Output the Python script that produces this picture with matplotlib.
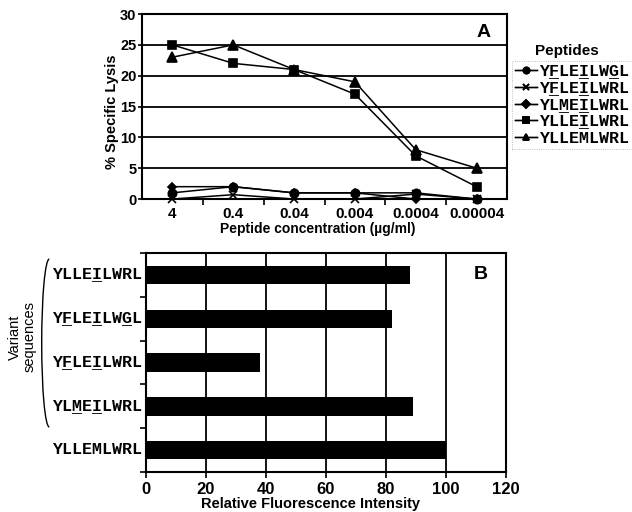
import matplotlib
matplotlib.use("Agg")
import matplotlib.pyplot as plt
from matplotlib.patches import Arc
import numpy as np

plt.rcParams['font.family'] = ['Liberation Sans', 'DejaVu Sans']

# panel A data
conc_labels = ['4', '0.4', '0.04', '0.004', '0.0004', '0.00004']
peptides = ['YFLEILWGL', 'YFLEILWRL', 'YLMEILWRL', 'YLLEILWRL', 'YLLEMLWRL']
underlines = {'YFLEILWGL': ' _  _  _ ',
              'YFLEILWRL': ' _  _    ',
              'YLMEILWRL': '  _ _    ',
              'YLLEILWRL': '    _    ',
              'YLLEMLWRL': '         '}
lysis_yflei_wgl = [1, 2, 1, 1, 1, 0]
lysis_yflei_wrl = [0, 0.7, 0, 0, 0.8, 0]
lysis_ylmei_wrl = [2, 2, 1, 1, 0, 0]
lysis_yllei_wrl = [25, 22, 21, 17, 7, 2]
lysis_yllem_wrl = [23, 25, 21, 19, 8, 5]
markers = ['o', 'x', 'D', 's', '^']
msizes = [6, 6, 4.5, 6, 7]

# panel B data
variants = ['YLLEILWRL', 'YFLEILWGL', 'YFLEILWRL', 'YLMEILWRL', 'YLLEMLWRL']
fluor = [88, 82, 38, 89, 100]

mono = 'Liberation Mono'

fig = plt.figure(figsize=(6.32, 5.12), dpi=100)

# ---------------- panel A ----------------
axA = fig.add_axes([0.2247, 0.6113, 0.5775, 0.3613])
x = np.arange(len(conc_labels))
series = [lysis_yflei_wgl, lysis_yflei_wrl, lysis_ylmei_wrl, lysis_yllei_wrl, lysis_yllem_wrl]
handles = []
for vals, m, ms in zip(series, markers, msizes):
    h, = axA.plot(x, vals, color='black', lw=1.1, marker=m, ms=ms,
                  mec='black', mfc='black', mew=1.2, clip_on=False, zorder=3)
    handles.append(h)
axA.set_xlim(-0.5, 5.5)
axA.set_ylim(0, 30)
axA.set_yticks(np.arange(0, 31, 5))
axA.yaxis.grid(True, color='black', lw=1.3)
axA.set_axisbelow(True)
axA.set_xticks(x)
axA.set_xticklabels(conc_labels, fontweight='bold', fontsize=11)
axA.set_xticks(np.arange(0.5, 5, 1), minor=True)
axA.tick_params(axis='x', which='major', length=0, pad=6)
axA.tick_params(axis='x', which='minor', length=4, width=1.2, direction='out')
axA.tick_params(axis='y', length=3, width=1.2, labelsize=10.5, pad=1)
for lab in axA.get_yticklabels():
    lab.set_fontweight('bold')
for s in axA.spines.values():
    s.set_linewidth(1.5)
axA.set_ylabel('% Specific Lysis', fontweight='bold', fontsize=10.5)
axA.yaxis.set_label_coords(-0.062, 0.473)
axA.set_xlabel('Peptide concentration (µg/ml)', fontweight='bold', fontsize=10)
axA.xaxis.set_label_coords(0.482, -0.124)
axA.text(0.955, 0.9, 'A', transform=axA.transAxes, fontsize=14, fontweight='bold',
         ha='right', va='center')

leg_kw = dict(loc='upper left', bbox_to_anchor=(0.810, 0.881),
              bbox_transform=fig.transFigure, prop={'family': mono, 'weight': 'bold', 'size': 12},
              handlelength=1.3, handletextpad=0.1, labelspacing=0.1, borderpad=0.2,
              borderaxespad=0, fancybox=False, edgecolor='#aaaaaa', framealpha=1)
leg1 = axA.legend(handles, peptides, **leg_kw)
leg1.get_frame().set_linewidth(0.6)
leg1.get_frame().set_linestyle(':')
axA.add_artist(leg1)
leg2 = axA.legend(handles, [underlines[p] for p in peptides], frameon=False, **leg_kw)
for lg in (leg1, leg2):
    for hd in lg.legend_handles:
        hd.set_markersize(4.5)
        hd.set_linewidth(1.0)
fig.text(567 / 632, 1 - 51 / 512, 'Peptides', ha='center', va='center',
         fontsize=11, fontweight='bold')

# ---------------- panel B ----------------
axB = fig.add_axes([0.231, 0.0781, 0.5696, 0.4277])
y = np.arange(len(variants))
axB.barh(y, fluor, height=0.42, color='black', zorder=3)
axB.set_xlim(0, 120)
axB.set_ylim(4.5, -0.5)
axB.set_xticks(np.arange(0, 121, 20))
axB.xaxis.grid(True, color='black', lw=1.3)
axB.set_axisbelow(True)
axB.tick_params(axis='x', length=4, width=1.2, labelsize=12)
for lab in axB.get_xticklabels():
    lab.set_fontweight('bold')
axB.set_yticks(y)
axB.set_yticklabels([])
axB.set_yticks(np.arange(-0.5, 5, 1), minor=True)
axB.tick_params(axis='y', which='major', length=0)
axB.tick_params(axis='y', which='minor', length=4, width=1.2, direction='out')
for s in axB.spines.values():
    s.set_linewidth(1.5)
axB.set_xlabel('Relative Fluorescence Intensity', fontweight='bold', fontsize=10.5)
axB.xaxis.set_label_coords(0.458, -0.112)
axB.text(0.95, 0.9, 'B', transform=axB.transAxes, fontsize=14, fontweight='bold',
         ha='right', va='center')

tr = axB.get_yaxis_transform()
for yi, v in zip(y, variants):
    axB.text(-0.012, yi + 0.1, v, transform=tr, ha='right', va='baseline',
             family=mono, fontweight='bold', fontsize=12, clip_on=False)
    axB.text(-0.012, yi + 0.1, underlines[v], transform=tr, ha='right', va='baseline',
             family=mono, fontweight='bold', fontsize=12, clip_on=False)

# bracket and side label for the variant group
fig.add_artist(Arc((0.078, 0.330), 0.024, 0.328, theta1=90, theta2=270,
                   transform=fig.transFigure, color='black', lw=1.0))
fig.text(0.035, 0.342, 'Variant\nsequences', rotation=90, ha='center', va='center',
         fontsize=10.5, linespacing=1.0)

fig.savefig('out.png', dpi=100)
